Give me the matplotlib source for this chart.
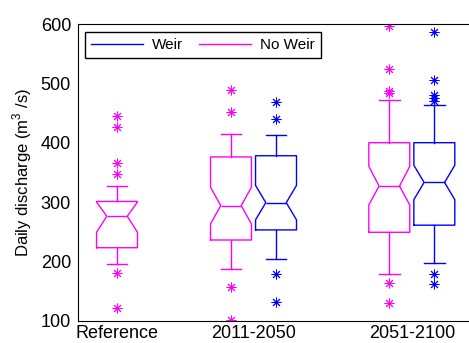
import matplotlib
matplotlib.use('Agg')
import matplotlib.pyplot as plt
from matplotlib.lines import Line2D

plt.rcParams['font.family'] = ['Liberation Sans', 'DejaVu Sans']
plt.rcParams['mathtext.fontset'] = 'custom'
plt.rcParams['mathtext.rm'] = 'Liberation Sans'

# box statistics (m3/s)
groups = ['Reference', '2011-2050', '2051-2100']
labels = ['Reference', '2011-2050 No Weir', '2011-2050 Weir', '2051-2100 No Weir', '2051-2100 Weir']
med = [276, 294, 299, 327, 333]
q1 = [223, 236, 253, 249, 261]
q3 = [301, 376, 378, 400, 400]
whislo = [196, 187, 204, 178, 198]
whishi = [327, 415, 413, 472, 464]
cilo = [249, 263, 270, 295, 304]
cihi = [300, 325, 328, 360, 362]
fliers = [
    [445, 427, 366, 347, 180, 122],
    [488, 451, 156, 102],
    [469, 440, 178, 131],
    [596, 524, 487, 483, 164, 130],
    [586, 505, 480, 476, 471, 178, 162],
]

MAG = '#ff00ff'
BLU = '#0000ff'
colors = [MAG, MAG, BLU, MAG, BLU]

group_x = [1.0, 2.0, 3.16]
off = 0.165
positions = [group_x[0], group_x[1] - off, group_x[1] + off, group_x[2] - off, group_x[2] + off]

fig = plt.figure(figsize=(4.69, 3.43), dpi=100)
ax = fig.add_axes([0.1663, 0.065, 0.8337, 0.865])

for i in range(len(med)):
    st = dict(med=med[i], q1=q1[i], q3=q3[i], whislo=whislo[i], whishi=whishi[i],
              cilo=cilo[i], cihi=cihi[i], fliers=fliers[i], label=labels[i])
    c = colors[i]
    ax.bxp([st], positions=[positions[i]], widths=0.30, shownotches=True,
           boxprops=dict(color=c, lw=1.0),
           whiskerprops=dict(color=c, lw=1.0),
           capprops=dict(color=c, lw=1.0),
           medianprops=dict(color=c, lw=1.0),
           flierprops=dict(marker=(8, 2, 0), markersize=7, markeredgecolor=c,
                           markerfacecolor=c, markeredgewidth=0.7, linestyle='none'),
           manage_ticks=False)

ax.set_xlim(0.714, 3.579)
ax.set_ylim(100, 600)
ax.set_yticks([100, 200, 300, 400, 500, 600])
ax.set_xticks(group_x)
ax.set_xticklabels(groups)
ax.tick_params(axis='both', length=0, labelsize=13)
ax.tick_params(axis='y', pad=5)
ax.tick_params(axis='x', pad=3)
ax.spines['right'].set_visible(False)
ax.set_ylabel('Daily discharge (m$^3$ /s)', fontsize=12, labelpad=5)

handles = [Line2D([], [], color=BLU, lw=1.0), Line2D([], [], color=MAG, lw=1.0)]
leg = ax.legend(handles, ['Weir', 'No Weir'], loc='upper left', ncol=2, fontsize=11,
                handlelength=3.4, columnspacing=1.0, handletextpad=0.6,
                fancybox=False, framealpha=1, edgecolor='black',
                bbox_to_anchor=(0.018, 0.973), borderaxespad=0.0)
leg.get_frame().set_linewidth(1.0)

fig.savefig('out.png', dpi=100)
